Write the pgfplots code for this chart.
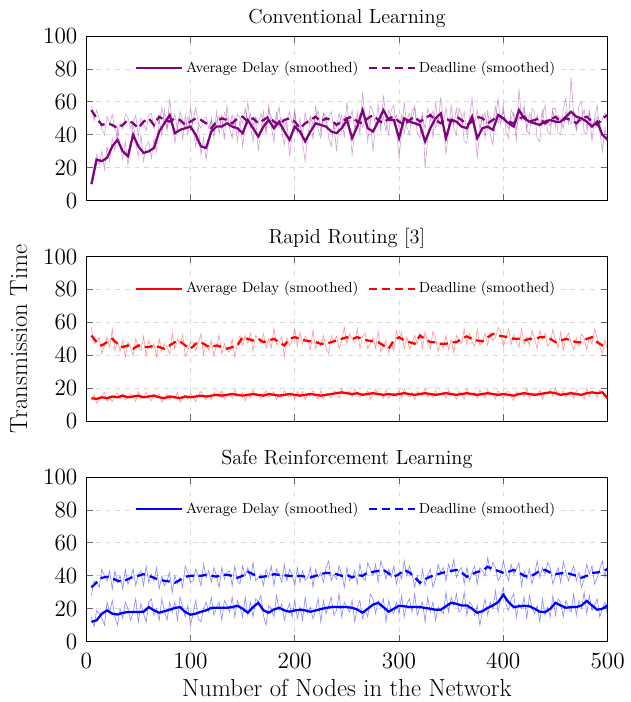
\documentclass[border=0pt]{standalone}
\usepackage{pgfplots}
\pgfplotsset{compat=1.18}
\usepackage{pgfplotstable}
\usetikzlibrary{calc}
\definecolor{cpurple}{RGB}{128,0,128}

% ---------------- raw series (x = 5, 7.5, ..., 500) ----------------
\pgfplotstableread[row sep=\\]{y\\
12\\20\\28\\22\\30\\19\\33\\24\\38\\30\\44\\33\\25\\36\\22\\31\\48\\35\\27\\40\\
24\\33\\36\\26\\38\\30\\50\\39\\55\\43\\62\\47\\35\\46\\50\\37\\52\\40\\57\\44\\
33\\46\\28\\38\\25\\36\\50\\38\\54\\40\\52\\37\\58\\44\\38\\51\\36\\49\\33\\45\\
60\\45\\36\\50\\30\\43\\54\\40\\58\\45\\36\\50\\57\\42\\34\\48\\27\\40\\55\\41\\
50\\35\\24\\40\\50\\37\\58\\43\\38\\53\\52\\38\\33\\48\\30\\46\\52\\38\\60\\44\\
28\\42\\54\\40\\66\\50\\36\\50\\30\\46\\58\\42\\64\\50\\40\\55\\58\\43\\26\\42\\
60\\45\\40\\55\\56\\41\\38\\54\\20\\38\\52\\38\\60\\46\\63\\48\\28\\42\\58\\44\\
40\\56\\52\\36\\35\\50\\62\\46\\26\\42\\52\\38\\55\\40\\34\\50\\62\\46\\58\\42\\
38\\55\\52\\36\\68\\50\\58\\43\\40\\56\\54\\38\\36\\52\\58\\42\\40\\56\\56\\41\\
40\\56\\62\\46\\75\\52\\43\\58\\60\\42\\40\\55\\36\\50\\58\\42\\30\\44\\35\\
}\rawcd
\pgfplotstableread[row sep=\\]{y\\
57.5\\48.5\\55\\49.5\\43.5\\40\\51\\46.5\\52.5\\43.5\\39\\47.5\\43.5\\52.5\\50.5\\44\\47\\52\\39\\50\\
46.5\\42.5\\52.5\\53\\43.5\\50\\47\\56.5\\49\\43.5\\52\\47.5\\52.5\\43\\54\\49\\43.5\\51\\43\\49\\
56.5\\47\\44\\49.5\\51\\44\\49\\42\\48\\51.5\\43.5\\53.5\\50.5\\45.5\\52\\43.5\\52.5\\50.5\\47\\56\\
46.5\\53\\45\\51\\47\\53\\46.5\\43.5\\55\\51\\44\\53.5\\44.5\\50\\44\\49.5\\54\\46.5\\53\\42\\
45.5\\40.5\\53.5\\46.5\\51.5\\46\\51\\54.5\\41.5\\53\\47.5\\51\\54\\43.5\\44.5\\53.5\\43\\51.5\\50\\48\\
55\\43\\49.5\\52.5\\44.5\\48.5\\46\\57.5\\54.5\\45.5\\50.5\\46.5\\51\\42\\55\\50.5\\48.5\\52\\44\\52\\
41\\49\\53\\47.5\\57.5\\45.5\\48\\51.5\\43.5\\56\\50.5\\54.5\\44\\49.5\\47\\46\\56.5\\45\\50.5\\46.5\\
56\\46\\47.5\\54\\41\\49.5\\49.5\\47\\55\\44\\50\\53.5\\43\\50.5\\47.5\\57\\47\\51\\54\\46.5\\
44\\50\\53.5\\43.5\\51.5\\49\\55\\43\\53\\48.5\\46.5\\52\\45\\55\\45.5\\49.5\\45\\55\\44.5\\52\\
49.5\\44\\54\\49.5\\46.5\\54.5\\43\\51\\48.5\\55.5\\44.5\\53.5\\45.5\\48.5\\51\\44\\50\\53.5\\47\\
}\rawcl
\pgfplotstableread[row sep=\\]{y\\
13\\16\\11\\13\\15.5\\17.5\\12\\14\\12\\15.5\\17\\13.5\\16.5\\13\\14\\16.5\\15\\12\\18\\13.5\\
15\\17.5\\14\\12.5\\16.5\\15\\16.5\\11.5\\14\\16.5\\13\\15.5\\13.5\\17.5\\11.5\\13.5\\16\\13\\17\\14.5\\
12\\16\\18\\15\\13\\15.5\\13\\17.5\\16\\15\\18.5\\13.5\\15.5\\17\\14\\19\\15\\16\\17.5\\12.5\\
16.5\\14\\19\\15.5\\16\\13.5\\16.5\\18.5\\14.5\\16\\18\\13\\16\\14.5\\18.5\\16\\14.5\\17.5\\13.5\\18\\
15\\18\\13\\16.5\\15.5\\18.5\\16\\13.5\\18.5\\13.5\\17\\15.5\\14\\18.5\\17.5\\14\\20\\16.5\\17\\18\\
14.5\\19.5\\16.5\\14.5\\17\\16\\18.5\\13.5\\16\\19.5\\16\\17\\14\\19\\14\\16.5\\17\\15\\18.5\\14\\
19.5\\16.5\\14.5\\17.5\\13\\18\\16.5\\15.5\\20\\14.5\\17\\14.5\\18.5\\15.5\\16.5\\17.5\\14\\19\\15.5\\17\\
13.5\\18\\17\\13.5\\19.5\\16\\16\\17.5\\14\\19\\16.5\\14\\19\\16\\17\\13.5\\18.5\\16\\14.5\\17.5\\
18\\15\\12.5\\18\\16\\17\\15\\20\\14\\16.5\\17\\15\\19\\13.5\\17.5\\16.5\\19.5\\15\\20\\16\\
15.5\\18.5\\14.5\\16.5\\18\\14\\18.5\\15.5\\16.5\\13.5\\20\\15\\18.5\\17\\14.5\\19\\17.5\\14.5\\16.5\\
}\rawrd
\pgfplotstableread[row sep=\\]{y\\
57\\47\\48\\51\\41\\46\\51\\45\\56\\43\\48\\43\\49\\39\\48\\44.5\\40\\50\\45\\43\\
51.5\\40\\49\\44\\47\\39\\50\\42\\47\\45\\41\\53.5\\44\\49.5\\47\\52.5\\39.5\\42.5\\48\\48\\
43\\47.5\\53\\40.5\\47\\43\\49\\40\\46\\52\\41\\47\\43\\42\\50\\39\\47\\52\\46\\52\\
47.5\\53.5\\42.5\\52\\50\\47.5\\53\\44.5\\50\\44.5\\56.5\\46.5\\48\\51\\39.5\\50.5\\46\\49\\56\\45.5\\
54\\47\\51.5\\49\\43.5\\55\\44\\49\\45.5\\52\\44.5\\41\\52\\48.5\\51.5\\44.5\\48.5\\57\\47\\53\\
50\\48\\56\\44\\51.5\\53.5\\44\\47.5\\51\\44.5\\54.5\\42\\46\\49\\41.5\\48\\42.5\\55\\49.5\\54\\
44\\51\\44\\47.5\\52\\47\\53.5\\44.5\\54\\47.5\\44\\54.5\\50.5\\42.5\\47\\44.5\\52\\43.5\\49.5\\41.5\\
52\\49\\47.5\\56\\46.5\\53.5\\48.5\\45.5\\55.5\\46\\48.5\\53.5\\46\\53.5\\49\\51\\57\\54.5\\45\\51.25\\
56\\46.5\\52.5\\48.5\\45\\56\\46.5\\51\\46\\55\\50\\44\\55\\49.5\\53.5\\45.5\\47.5\\55.5\\49.5\\44.5\\
54\\43\\50\\53.5\\47.5\\43.5\\50.5\\45.5\\53\\50.5\\43.5\\50.5\\47\\56\\50.5\\45.5\\41\\49.5\\42.5\\
}\rawrl
\pgfplotstableread[row sep=\\]{y\\
15\\9\\19\\17\\14\\10\\24\\18\\25\\15\\10\\20\\14\\24\\20\\13\\18\\26\\12\\23\\
17\\12\\24\\26\\16\\20\\13\\26\\18.5\\13\\24\\18\\24\\13\\27\\21\\15\\22\\10\\17\\
25\\14\\12\\20\\24\\18\\27\\16\\21\\24\\13\\25\\22\\18\\27\\15\\25\\21\\15\\27\\
16\\24\\15\\26\\24\\28\\16\\10\\22\\20\\15\\28\\19\\23\\13\\19\\23\\15\\25\\14\\
21\\13\\27\\17\\21\\14\\19\\26\\12\\25\\17\\22\\27\\16\\19\\29\\15\\24\\21\\18\\
25\\12\\21\\25\\14\\19\\15\\29\\26\\17\\25\\21\\26\\12\\25\\19\\17\\24\\17\\28\\
15\\23\\26\\18\\29\\16\\21\\24\\12\\27\\18\\24\\13\\21\\19\\17\\30\\18\\27\\22\\
29\\18\\20\\30\\16\\24\\22\\16\\22\\10\\18.5\\26\\16\\24\\20\\31\\18\\26\\33\\23\\
19\\26\\29\\15\\23\\20\\27\\14\\28\\21\\17\\22\\12\\26\\16\\21\\15\\28\\16\\26\\
24\\15\\25\\21\\18\\29\\16\\25\\20\\30\\17\\28\\19\\22\\26\\15\\20\\24\\16\\
}\rawsd
\pgfplotstableread[row sep=\\]{y\\
28\\37\\36\\33\\44\\40\\37\\43\\32\\43\\36\\40\\32\\44\\35\\39\\44\\34\\41\\43\\
34\\46\\36\\41\\37\\45\\32\\40\\34\\37\\42\\30\\40\\35\\39\\33\\46\\42\\36\\37\\
44\\40\\34\\47\\39\\43\\36\\45\\40\\33\\45\\38\\42\\43\\34\\46\\37\\35\\46\\40\\
45\\38\\48\\37\\39\\41\\34\\44\\39\\46\\34\\44\\41\\36\\47\\37\\44\\41\\34\\45\\
36\\43\\37\\39\\45\\33\\44\\39\\42\\36\\45\\49\\37\\41\\38\\46\\41\\33\\45\\37\\
39\\43\\35\\47\\39\\37\\48\\44\\40\\47\\36\\49\\44\\38\\44\\39\\46\\35\\42\\38\\
49\\40\\46\\41\\33\\40\\34\\44\\34\\40\\44\\33\\38\\47\\42\\45\\37\\47\\42\\50\\
39\\43\\45\\35\\45\\37\\42\\46\\35\\45\\43\\40\\51\\43\\48\\45\\37\\40\\49\\42\\
37\\47\\41\\44\\48\\34\\43\\38\\44\\35\\41\\49\\39\\45\\41\\48\\45\\35\\40\\45\\
36\\49\\42\\37\\42\\46\\37\\42\\33\\38\\47\\41\\46\\35\\39\\44\\49\\39\\47\\
}\rawsl

% ---------------- smoothed series (x = 5, 10, ..., 500) ----------------
\pgfplotstableread[row sep=\\]{y\\
10\\25\\24\\26\\33\\37\\30\\27\\40\\33\\
29\\30\\32\\42\\47\\52\\41\\43\\44\\45\\
40\\33\\32\\42\\45\\45\\47\\45\\44\\41\\
49\\44\\39\\45\\49\\44\\48\\42\\37\\45\\
42\\36\\42\\47\\46\\45\\42\\41\\44\\49\\
38\\45\\55\\44\\42\\48\\55\\49\\49\\38\\
50\\48\\47\\46\\36\\44\\50\\53\\38\\49\\
48\\45\\44\\51\\38\\44\\45\\43\\52\\50\\
47\\45\\55\\50\\48\\47\\46\\48\\49\\48\\
48\\51\\54\\51\\50\\48\\45\\48\\40\\37\\
}\smcd
\pgfplotstableread[row sep=\\]{y\\
55\\50\\46\\47\\46\\44\\46\\49\\47\\44\\
48\\50\\46\\51\\49\\48\\50\\49\\46\\48\\
50\\49\\47\\44\\48\\50\\49\\47\\50\\51\\
48\\50\\47\\49\\51\\48\\46\\49\\50\\48\\
44\\47\\49\\51\\48\\50\\49\\46\\48\\50\\
51\\48\\47\\50\\52\\49\\47\\50\\51\\48\\
46\\49\\51\\48\\50\\52\\49\\47\\50\\48\\
51\\49\\46\\48\\51\\50\\47\\49\\52\\50\\
48\\47\\50\\51\\48\\49\\50\\47\\49\\51\\
48\\50\\49\\47\\50\\51\\48\\46\\50\\52\\
}\smcl
\pgfplotstableread[row sep=\\]{y\\
14\\13.5\\14.5\\14\\15\\14.5\\15.5\\14.5\\15\\15.5\\
14.5\\15\\15.5\\14.5\\14\\15\\14.5\\14\\15\\14.5\\
15\\15.5\\15\\15.5\\16\\15.5\\16\\16.5\\16\\15.5\\
16\\16.5\\16\\15.5\\16.5\\16\\15.5\\16\\16.5\\16\\
15.5\\16\\16.5\\16\\15.5\\16\\16.5\\17\\17.5\\17\\
16.5\\17\\16\\16.5\\17\\16.5\\16\\16.5\\16\\16.5\\
17\\16.5\\16\\16.5\\17\\16.5\\16\\16.5\\17\\16.5\\
16\\16.5\\17\\16.5\\16\\16.5\\17\\16.5\\16\\16.5\\
16\\15.5\\16.5\\17\\16.5\\16\\16.5\\17\\17.5\\17\\
16\\16.5\\17\\16.5\\16\\17\\17.5\\17\\17.5\\14\\
}\smrd
\pgfplotstableread[row sep=\\]{y\\
52\\48\\46\\48\\50\\47\\45\\46\\44\\46\\
45\\45\\46\\45\\44\\46\\48\\48.5\\46\\44\\
47\\48\\46\\45\\46\\45\\44\\45\\46\\51\\
50\\49\\50\\48\\49\\50\\48\\46\\50\\51\\
50\\49\\48.5\\48\\47\\47\\48\\49\\50\\51\\
50\\51\\50\\49\\48.5\\48\\46\\44\\49\\51\\
49\\48\\47\\52\\50\\48\\48\\47\\47\\48\\
48\\50\\51.5\\50\\49\\48.5\\51\\53\\52\\51.5\\
51\\50\\50\\49\\50\\50\\51\\51\\50\\48\\
49\\50\\49\\48\\48\\50\\51\\48\\46\\45\\
}\smrl
\pgfplotstableread[row sep=\\]{y\\
12\\13\\17\\19\\17\\16.5\\17.5\\18\\18\\18\\
18.2\\21\\19\\17.6\\18.5\\19.4\\20.5\\21\\18\\16.4\\
17\\18.2\\19\\20.5\\20.6\\20.6\\20.6\\21\\21.8\\20\\
17.6\\21\\23.6\\19\\17.6\\19.5\\20.6\\19\\18.2\\19\\
19.4\\19\\18.2\\19\\19.8\\20.5\\21\\21\\21\\21\\
20.6\\19.5\\17.6\\20\\22.5\\23.6\\21\\18.2\\20\\21.8\\
21.5\\21\\21\\21\\20.5\\20\\19.4\\19.4\\21.5\\23.6\\
23\\22\\22\\20\\17.6\\18.5\\20.5\\22\\24\\28.5\\
24\\21\\21.5\\21.8\\21.5\\20\\18.2\\18\\20\\23.6\\
22\\20.6\\21\\21\\22\\24.8\\22\\19.4\\20\\22\\
}\smsd
\pgfplotstableread[row sep=\\]{y\\
33\\36\\38.8\\39.4\\38.5\\37\\36.4\\38\\39.4\\40\\
41\\40\\38.8\\37.6\\37\\36.5\\35.8\\37.5\\39.4\\40\\
40\\40\\40.6\\40\\39.5\\40.6\\40.6\\40\\38.8\\40\\
42.4\\41\\39\\39.5\\40\\41\\40.6\\40.3\\40\\39.5\\
40\\39.5\\39\\40\\41\\41.8\\41.5\\41\\40\\40.6\\
39\\40.5\\40\\42\\42.4\\43\\43.6\\41.5\\39.4\\41\\
43.6\\42\\39\\35.8\\38\\39.5\\40.6\\41.5\\42.4\\43\\
43.6\\42\\39.4\\41\\42.4\\43\\45.5\\44\\43\\41.8\\
42.5\\43.6\\42\\40\\39.4\\41\\43\\43.6\\42\\41\\
41.5\\41.8\\41\\40\\38.8\\40\\41.8\\42\\43\\44\\
}\smsl

\pgfplotsset{
  panel/.style={
    scale only axis, width=323pt, height=102pt,
    xmin=0, xmax=500, ymin=0, ymax=100,
    xtick={0,100,200,300,400,500}, ytick={0,20,40,60,80,100},
    grid=major, major grid style={dashed, black!15, line width=0.5pt},
    major tick style={black!60, line width=0.5pt},
    axis line style={black, line width=0.6pt},
    tick label style={font=\fontsize{14.5}{16}\selectfont},
    xticklabel style={yshift=-3.5pt},
    yticklabel style={xshift=-2pt},
    title style={font=\fontsize{12.6}{14}\selectfont, yshift=-4.5pt},
    label style={font=\fontsize{15.3}{17}\selectfont},
    xlabel style={yshift=0pt},
    ylabel shift=3pt,
    legend columns=2,
    legend cell align=left,
    legend style={at={(0.5,0.805)}, anchor=center, draw=none, fill=white,
      font=\fontsize{9}{11}\selectfont, inner sep=1pt,
      /tikz/every even column/.append style={column sep=4pt}},
    legend image code/.code={\draw[#1] (0pt,0pt) -- (28pt,0pt);},
  },
  rawline/.style={line width=0.4pt, forget plot},
  smline/.style={line width=1.4pt},
  dline/.style={line width=1.4pt, dash pattern=on 5pt off 3pt},
}

\begin{document}
\begin{tikzpicture}
\begin{axis}[panel, name=a1, title={Conventional Learning}, xticklabels={}]
\addplot[rawline, cpurple, opacity=0.35] table[x expr=5+2.5*\coordindex, y=y]{\rawcd};
\addplot[rawline, cpurple, opacity=0.35] table[x expr=5+2.5*\coordindex, y=y]{\rawcl};
\addplot[smline, cpurple] table[x expr=5+5*\coordindex, y=y]{\smcd};
\addlegendentry{Average Delay (smoothed)}
\addplot[dline, cpurple] table[x expr=5+5*\coordindex, y=y]{\smcl};
\addlegendentry{Deadline (smoothed)}
\end{axis}

\begin{axis}[panel, name=a2, at={($(a1.south west)-(0,34.6pt)$)}, anchor=north west,
  title={Rapid Routing [3]}, xticklabels={}, ylabel={Transmission Time}]
\addplot[rawline, red, opacity=0.4] table[x expr=5+2.5*\coordindex, y=y]{\rawrd};
\addplot[rawline, red, opacity=0.4] table[x expr=5+2.5*\coordindex, y=y]{\rawrl};
\addplot[smline, red] table[x expr=5+5*\coordindex, y=y]{\smrd};
\addlegendentry{Average Delay (smoothed)}
\addplot[dline, red] table[x expr=5+5*\coordindex, y=y]{\smrl};
\addlegendentry{Deadline (smoothed)}
\end{axis}

\begin{axis}[panel, name=a3, at={($(a2.south west)-(0,34.6pt)$)}, anchor=north west,
  title={Safe Reinforcement Learning}, xlabel={Number of Nodes in the Network}]
\addplot[rawline, blue, opacity=0.45] table[x expr=5+2.5*\coordindex, y=y]{\rawsd};
\addplot[rawline, blue, opacity=0.45] table[x expr=5+2.5*\coordindex, y=y]{\rawsl};
\addplot[smline, blue] table[x expr=5+5*\coordindex, y=y]{\smsd};
\addlegendentry{Average Delay (smoothed)}
\addplot[dline, blue] table[x expr=5+5*\coordindex, y=y]{\smsl};
\addlegendentry{Deadline (smoothed)}
\end{axis}
\path (current bounding box.west) ++(-3pt,0);
\path (current bounding box.north) ++(0,2.5pt);
\end{tikzpicture}
\end{document}
